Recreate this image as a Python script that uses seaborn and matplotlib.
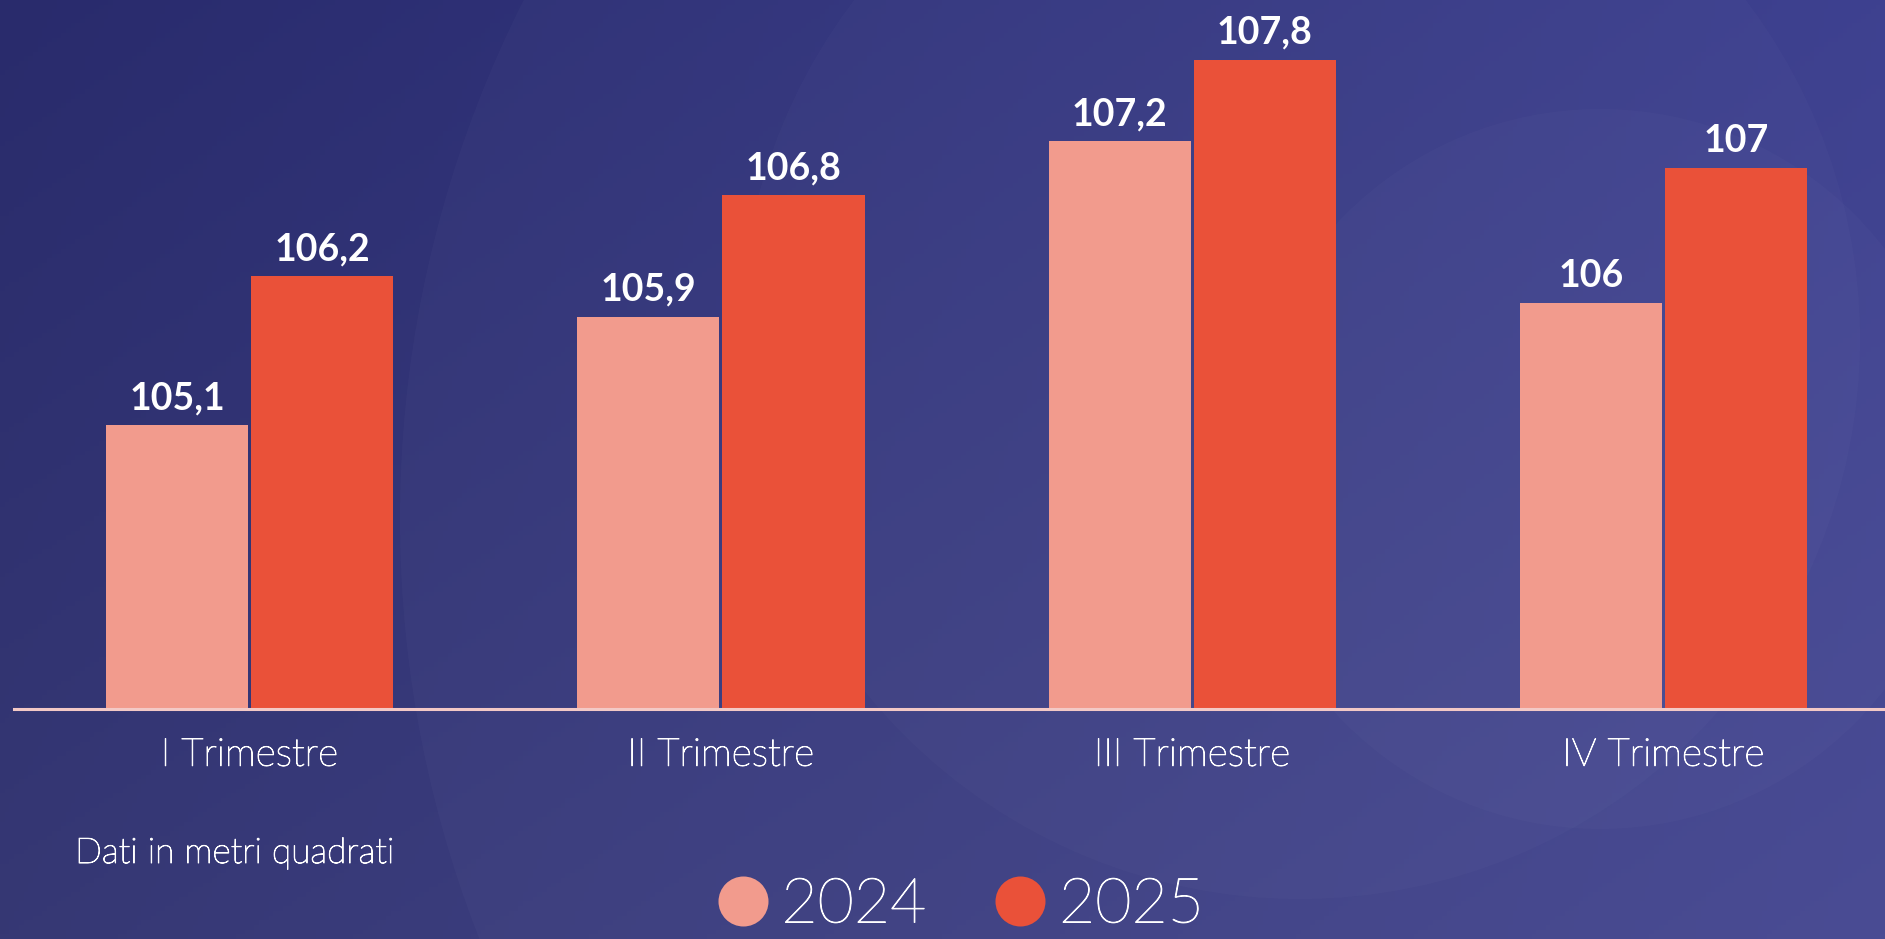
import numpy as np
import pandas as pd
import seaborn as sns
import matplotlib.pyplot as plt
import matplotlib.patheffects as pe
from matplotlib.lines import Line2D
from matplotlib.patches import Circle

# dati
trimestri = ['I Trimestre', 'II Trimestre', 'III Trimestre', 'IV Trimestre']
anni = ['2024', '2025']
valori_2024 = [105.1, 105.9, 107.2, 106.0]
valori_2025 = [106.2, 106.8, 107.8, 107.0]
colori = ['#F29B8D', '#EA5139']

df = pd.DataFrame({
    'trimestre': trimestri * 2,
    'anno': [anni[0]] * 4 + [anni[1]] * 4,
    'valore': valori_2024 + valori_2025,
})

sns.set_theme(style='white')
plt.rcParams['font.family'] = ['Lato', 'DejaVu Sans']

W, H = 1885, 939
fig = plt.figure(figsize=(W / 100, H / 100), dpi=100)

# sfondo sfumato con cerchi appena visibili (coordinate in pixel)
bg = fig.add_axes([0, 0, 1, 1], zorder=-2)
yy, xx = np.mgrid[0:1:200j, 0:1:400j]
tl = np.array([41, 43, 108]) / 255
tr = np.array([58, 61, 142]) / 255
bl = np.array([54, 56, 116]) / 255
br = np.array([70, 72, 146]) / 255
img = (tl * ((1 - xx) * (1 - yy))[..., None] + tr * (xx * (1 - yy))[..., None]
       + bl * ((1 - xx) * yy)[..., None] + br * (xx * yy)[..., None])
bg.imshow(img, extent=[0, W, 0, H], aspect='auto', origin='upper')
for cx, cy, r, a in [(1550, 420, 1150, 0.025), (1300, 600, 560, 0.018),
                     (1600, 470, 360, 0.02)]:
    bg.add_patch(Circle((cx, cy), r, color='white', alpha=a, lw=0))
bg.set_xlim(0, W)
bg.set_ylim(0, H)
bg.axis('off')

# testo chiaro un po' piu' pieno
chiaro = [pe.withStroke(linewidth=0.7, foreground='white')]

# grafico
ax = fig.add_axes([14 / W, 230 / H, 1871 / W, 709 / H])
ax.set_facecolor('none')
sns.barplot(data=df, x='trimestre', y='valore', hue='anno', palette=colori,
            saturation=1, width=0.616, gap=0.02, linewidth=0, ax=ax,
            legend=False)

for cont in ax.containers:
    etichette = [f'{b.get_height():g}'.replace('.', ',') for b in cont]
    ax.bar_label(cont, labels=etichette, padding=7, color='white',
                 fontsize=27, fontweight='bold')

ax.set_ylim(103, 108.24)
ax.set_xlim(-0.5, 3.47)
ax.set_xlabel('')
ax.set_ylabel('')
ax.set_yticks([])
ax.tick_params(axis='x', length=0, pad=20, labelsize=28, labelcolor='white')
for lab in ax.get_xticklabels():
    lab.set_fontweight('light')
    lab.set_path_effects(chiaro)
for s in ['top', 'left', 'right']:
    ax.spines[s].set_visible(False)
ax.spines['bottom'].set_color('#F3C9C6')
ax.spines['bottom'].set_linewidth(2.2)

fig.text(75 / W, 76 / H, 'Dati in metri quadrati', color='white',
         fontsize=25.5, fontweight='light', va='baseline', path_effects=chiaro)

maniglie = [Line2D([], [], marker='o', linestyle='none', markersize=36,
                   markerfacecolor=c, markeredgewidth=0) for c in colori]
leg = fig.legend(maniglie, anni, loc='center', bbox_to_anchor=(0.508, 0.036),
                 ncol=2, frameon=False, fontsize=45, handletextpad=0.12,
                 columnspacing=1.0, handlelength=1, borderpad=0.1)
for t in leg.get_texts():
    t.set_color('white')
    t.set_fontweight('light')
    t.set_path_effects(chiaro)

fig.savefig('out.png', dpi=100)
